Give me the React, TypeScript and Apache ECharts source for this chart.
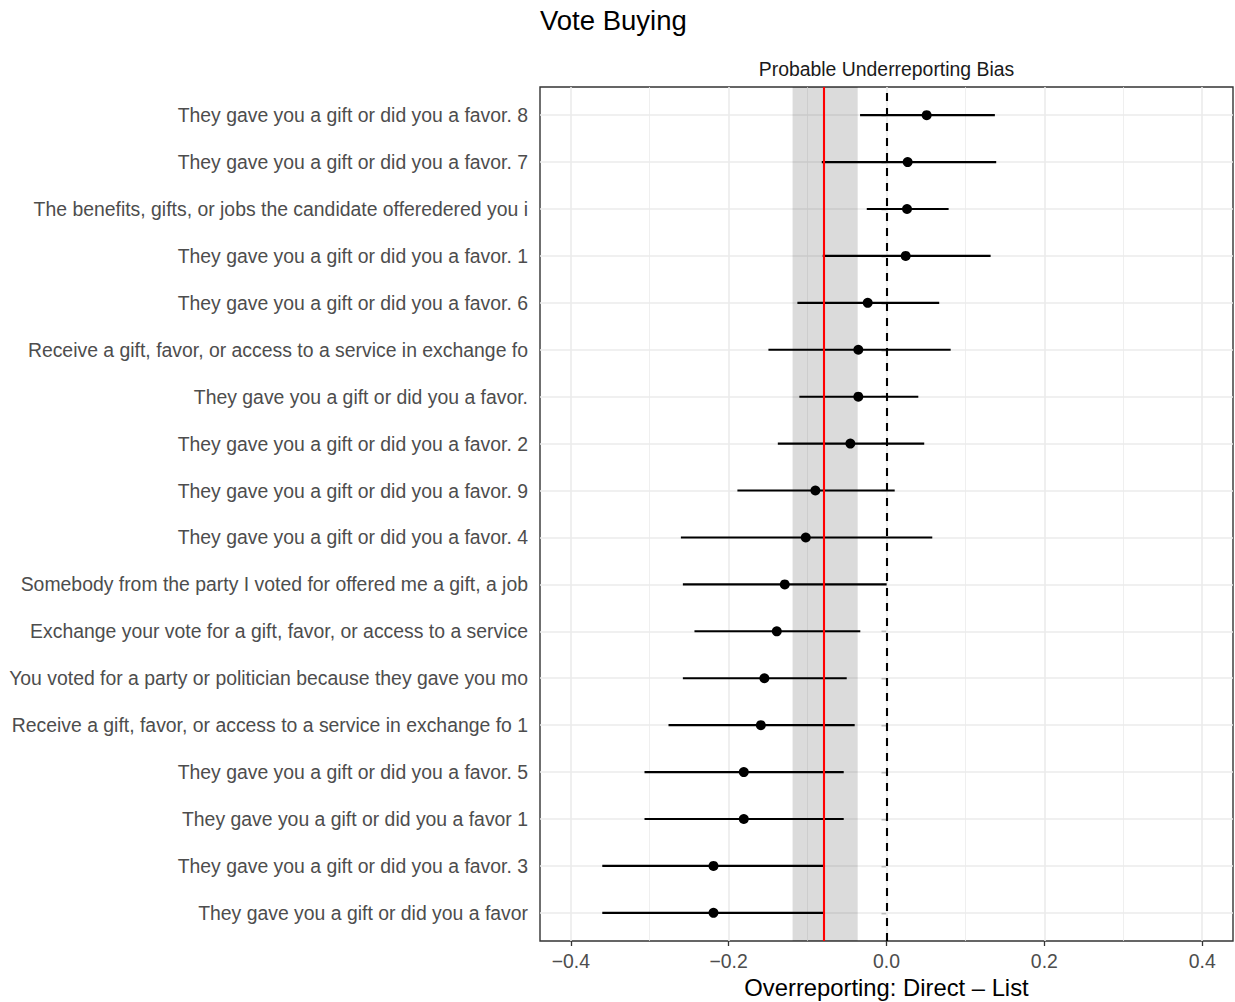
import React, { useEffect, useRef } from "react";
import * as echarts from "echarts";

// Items, listed from the bottom row (1) to the top row (18)
const items: string[] = [
  "They gave you a gift or did you a favor",
  "They gave you a gift or did you a favor. 3",
  "They gave you a gift or did you a favor 1",
  "They gave you a gift or did you a favor. 5",
  "Receive a gift, favor, or access to a service in exchange fo 1",
  "You voted for a party or politician because they gave you mo",
  "Exchange your vote for a gift, favor, or access to a service",
  "Somebody from the party I voted for offered me a gift, a job",
  "They gave you a gift or did you a favor. 4",
  "They gave you a gift or did you a favor. 9",
  "They gave you a gift or did you a favor. 2",
  "They gave you a gift or did you a favor.",
  "Receive a gift, favor, or access to a service in exchange fo",
  "They gave you a gift or did you a favor. 6",
  "They gave you a gift or did you a favor. 1",
  "The benefits, gifts, or jobs the candidate offeredered you i",
  "They gave you a gift or did you a favor. 7",
  "They gave you a gift or did you a favor. 8",
];

// Overreporting estimate (Direct − List) and its interval bounds, per item
const estimate: number[] = [
  -0.2192, -0.2192, -0.1808, -0.1808, -0.1592, -0.1547, -0.139, -0.1289, -0.1023,
  -0.0901, -0.0458, -0.0357, -0.0357, -0.0238, 0.0243, 0.026, 0.0268, 0.0509,
];
const lower: number[] = [
  -0.3601, -0.3601, -0.3066, -0.3066, -0.2762, -0.258, -0.2433, -0.258, -0.2605,
  -0.1889, -0.1377, -0.1104, -0.1496, -0.1129, -0.0808, -0.025, -0.082, -0.0335,
];
const upper: number[] = [
  -0.0791, -0.0791, -0.0542, -0.0542, -0.0403, -0.0504, -0.0332, 0.0002, 0.058,
  0.0104, 0.0478, 0.0403, 0.0813, 0.0668, 0.1319, 0.0787, 0.139, 0.1373,
];

// Pooled bias and its band
const pooledBias = -0.0778;
const pooledBand: [number, number] = [-0.119, -0.0365];

// Axis ticks
const xMajorTicks: number[] = [-0.4, -0.2, 0, 0.2, 0.4];
const xMinorTicks: number[] = [-0.3, -0.1, 0.1, 0.3];
const xRange: [number, number] = [-0.439, 0.439];

const FONT = '"Liberation Sans", Arial, Helvetica, sans-serif';

export default function App() {
  const ref = useRef<HTMLDivElement>(null);

  useEffect(() => {
    if (!ref.current) return;
    const chart = echarts.init(ref.current, undefined, { renderer: "svg" });

    const rows = items.map((_, i) => i + 1);
    const gridLeft = 540;
    const gridTop = 87;
    const gridWidth = 693;
    const gridHeight = 854;

    const fmtX = (v: number) => {
      const s = Math.abs(v) < 1e-9 ? "0.0" : v.toFixed(1);
      return s.replace("-", "\u2212");
    };

    const option: echarts.EChartsOption = {
      animation: false,
      backgroundColor: "#ffffff",
      grid: {
        left: gridLeft,
        top: gridTop,
        width: gridWidth,
        height: gridHeight,
        show: true,
        borderColor: "#333333",
        borderWidth: 1.4,
        backgroundColor: "transparent",
        containLabel: false,
      },
      xAxis: {
        type: "value",
        min: xRange[0],
        max: xRange[1],
        splitLine: { show: false },
        axisLine: { show: false },
        axisTick: {
          show: true,
          customValues: xMajorTicks,
          length: 5,
          lineStyle: { color: "#333333", width: 1.3 },
        },
        axisLabel: {
          customValues: xMajorTicks,
          formatter: (v: number) => fmtX(v),
          color: "#4D4D4D",
          fontSize: 19.4,
          fontFamily: FONT,
          margin: 10,
        },
      },
      yAxis: {
        type: "value",
        min: 0.4,
        max: 18.6,
        splitLine: { show: false },
        axisLine: { show: false },
        axisTick: {
          show: true,
          customValues: rows,
          length: 5,
          lineStyle: { color: "#333333", width: 1.3 },
        },
        axisLabel: {
          customValues: rows,
          formatter: (v: number) => items[Math.round(v) - 1] ?? "",
          color: "#4D4D4D",
          fontSize: 19.4,
          fontFamily: FONT,
          margin: 12,
        },
      },
      graphic: [
        {
          type: "text",
          left: 540,
          top: 6,
          style: {
            text: "Vote Buying",
            fill: "#000000",
            font: `27.5px ${FONT}`,
          },
        },
        {
          type: "text",
          x: gridLeft + gridWidth / 2,
          y: 69,
          style: {
            text: "Probable Underreporting Bias",
            fill: "#1A1A1A",
            font: `19.4px ${FONT}`,
            align: "center",
            verticalAlign: "middle",
          },
        },
        {
          type: "text",
          x: gridLeft + gridWidth / 2,
          y: 987,
          style: {
            text: "Overreporting: Direct \u2013 List",
            fill: "#000000",
            font: `23.8px ${FONT}`,
            align: "center",
            verticalAlign: "middle",
          },
        },
      ],
      series: [
        // background grid lines
        {
          type: "scatter",
          data: [],
          z: 1,
          silent: true,
          markLine: {
            silent: true,
            z: 1,
            symbol: "none",
            label: { show: false },
            emphasis: { disabled: true },
            data: [
              ...xMinorTicks.map((v) => ({
                xAxis: v,
                lineStyle: { color: "#EBEBEB", width: 0.8, type: "solid" as const },
              })),
              ...xMajorTicks.map((v) => ({
                xAxis: v,
                lineStyle: { color: "#EBEBEB", width: 1.6, type: "solid" as const },
              })),
              ...rows.map((r) => ({
                yAxis: r,
                lineStyle: { color: "#EBEBEB", width: 1.6, type: "solid" as const },
              })),
            ],
          },
        },
        // pooled bias band
        {
          type: "scatter",
          data: [],
          z: 2,
          silent: true,
          markArea: {
            silent: true,
            z: 2,
            itemStyle: { color: "rgba(0,0,0,0.14)" },
            data: [[{ xAxis: pooledBand[0] }, { xAxis: pooledBand[1] }]],
          },
        },
        // interval bars
        {
          type: "custom",
          z: 3,
          silent: true,
          data: rows.map((r, i) => [lower[i], upper[i], r]),
          renderItem: (params: any, api: any) => {
            const a = api.coord([api.value(0), api.value(2)]);
            const b = api.coord([api.value(1), api.value(2)]);
            return {
              type: "line",
              shape: { x1: a[0], y1: a[1], x2: b[0], y2: b[1] },
              style: { stroke: "#000000", lineWidth: 2.1 },
            };
          },
          encode: { x: [0, 1], y: 2 },
        },
        // point estimates
        {
          type: "scatter",
          z: 4,
          symbol: "circle",
          symbolSize: 10,
          itemStyle: { color: "#000000", opacity: 1 },
          emphasis: { disabled: true },
          data: rows.map((r, i) => [estimate[i], r]),
        },
        // reference lines
        {
          type: "scatter",
          data: [],
          z: 5,
          silent: true,
          markLine: {
            silent: true,
            z: 5,
            symbol: "none",
            label: { show: false },
            emphasis: { disabled: true },
            data: [
              { xAxis: pooledBias, lineStyle: { color: "#FF0000", width: 2.1, type: "solid" as const } },
              {
                xAxis: 0,
                lineStyle: { color: "#000000", width: 2.1, type: [8, 7] as any },
              },
            ],
          },
        },
      ],
    };

    chart.setOption(option);
    return () => chart.dispose();
  }, []);

  return (
    <div
      ref={ref}
      style={{ position: "fixed", left: 0, top: 0, width: 1235, height: 1002 }}
    />
  );
}
